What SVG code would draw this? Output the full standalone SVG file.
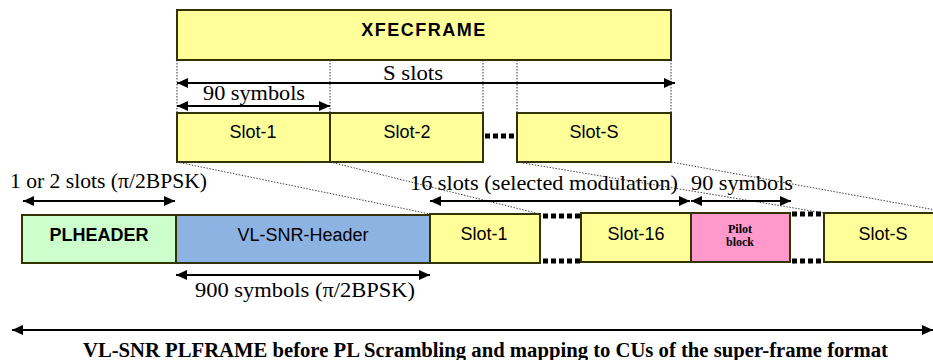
<svg xmlns="http://www.w3.org/2000/svg" width="933" height="360" viewBox="0 0 933 360">
<defs>
<marker id="ah" markerUnits="userSpaceOnUse" markerWidth="12" markerHeight="10" refX="11" refY="5" orient="auto-start-reverse">
<path d="M0,0 L11,5 L0,10 z" fill="#000"/>
</marker>
<style>
.box{stroke:#333300;stroke-width:2}
.y{fill:#FFFF99}
.sans{font-family:"Liberation Sans",Arial,sans-serif;font-size:18px;fill:#000;text-anchor:middle}
.b{font-weight:bold}
.serif{font-family:"Liberation Serif","Times New Roman",serif;font-size:21px;fill:#000}
.arr{stroke:#000;stroke-width:2;fill:none;marker-start:url(#ah);marker-end:url(#ah)}
.vdot{stroke:#333;stroke-width:1;stroke-dasharray:1.5 1.5;fill:none}
.diag{stroke:#444;stroke-width:1;stroke-dasharray:1.5 1.5;fill:none}
.dots{stroke:#000;stroke-width:5;stroke-dasharray:5 3;fill:none}
</style>
</defs>
<rect width="933" height="360" fill="#fff"/>

<g id="xfecframe">
<rect class="box y" x="177" y="10" width="494" height="50"/>
<text class="sans b" x="424" y="36" font-size="16" letter-spacing="1.5">XFECFRAME</text>
</g>

<g id="top-slot-1">
<rect class="box y" x="177" y="113" width="153" height="49"/>
<text class="sans" x="253" y="138">Slot-1</text>
</g>
<g id="top-slot-2">
<rect class="box y" x="330" y="113" width="153" height="49"/>
<text class="sans" x="407" y="138">Slot-2</text>
</g>
<g id="top-slot-s">
<rect class="box y" x="517" y="113" width="154" height="49"/>
<text class="sans" x="594" y="138">Slot-S</text>
</g>

<g id="plheader">
<rect class="box" x="22" y="215" width="154" height="48" fill="#CCFFCC" stroke="#111"/>
<text class="sans b" x="99" y="241">PLHEADER</text>
</g>
<g id="vl-snr-header">
<rect class="box" x="176" y="215" width="254" height="48" fill="#8DB3E2"/>
<text class="sans" x="303" y="241">VL-SNR-Header</text>
</g>
<g id="bot-slot-1">
<rect class="box y" x="430" y="214" width="110" height="49"/>
<text class="sans" x="484" y="240">Slot-1</text>
</g>
<g id="bot-slot-16">
<rect class="box y" x="581" y="213" width="110" height="49"/>
<text class="sans" x="636" y="240">Slot-16</text>
</g>
<g id="pilot-block">
<rect class="box" x="691" y="213" width="99" height="49" fill="#FF99CC" stroke="#222"/>
<text x="740" y="233" font-family="'Liberation Serif','Times New Roman',serif" font-weight="bold" font-size="12" text-anchor="middle">Pilot</text>
<text x="740" y="246" font-family="'Liberation Serif','Times New Roman',serif" font-weight="bold" font-size="12" text-anchor="middle">block</text>
</g>
<g id="bot-slot-s">
<rect class="box y" x="824" y="213" width="130" height="49"/>
<text class="sans" x="883" y="240">Slot-S</text>
</g>

<g id="connectors">
<path class="vdot" d="M177,60V113 M330,60V113 M483,60V113 M517,60V113 M671,60V113"/>
<path class="diag" d="M177,162L430,214 M330,162L540,214 M517,162L824,213 M671,162L952,213"/>
<path class="dots" d="M485,136H517"/>
<path class="dots" d="M543,216H581 M543,261H581 M792,214H824 M792,261H824"/>
<path class="arr" d="M177,83H675"/>
<path class="arr" d="M177,106H330"/>
<path class="arr" d="M23,201H175"/>
<path class="arr" d="M430,201H690"/>
<path class="arr" d="M691,201H791"/>
<path class="arr" d="M176,275H430"/>
<path class="arr" d="M12,330H933"/>
</g>

<g id="labels">
<text class="serif" x="383" y="80" textLength="60" lengthAdjust="spacingAndGlyphs">S slots</text>
<text class="serif" x="203" y="100" textLength="102" lengthAdjust="spacingAndGlyphs">90 symbols</text>
<text class="serif" x="10" y="188" textLength="197" lengthAdjust="spacingAndGlyphs">1 or 2 slots (π/2BPSK)</text>
<text class="serif" x="410" y="190" textLength="268" lengthAdjust="spacingAndGlyphs">16 slots (selected modulation)</text>
<text class="serif" x="691" y="190" textLength="102" lengthAdjust="spacingAndGlyphs">90 symbols</text>
<text class="serif" x="195" y="297" textLength="220" lengthAdjust="spacingAndGlyphs">900 symbols (π/2BPSK)</text>
<text x="83" y="357" font-family="'Liberation Serif','Times New Roman',serif" font-weight="bold" font-size="20" textLength="805" lengthAdjust="spacingAndGlyphs">VL-SNR PLFRAME before PL Scrambling and mapping to CUs of the super-frame format</text>
</g>
</svg>
